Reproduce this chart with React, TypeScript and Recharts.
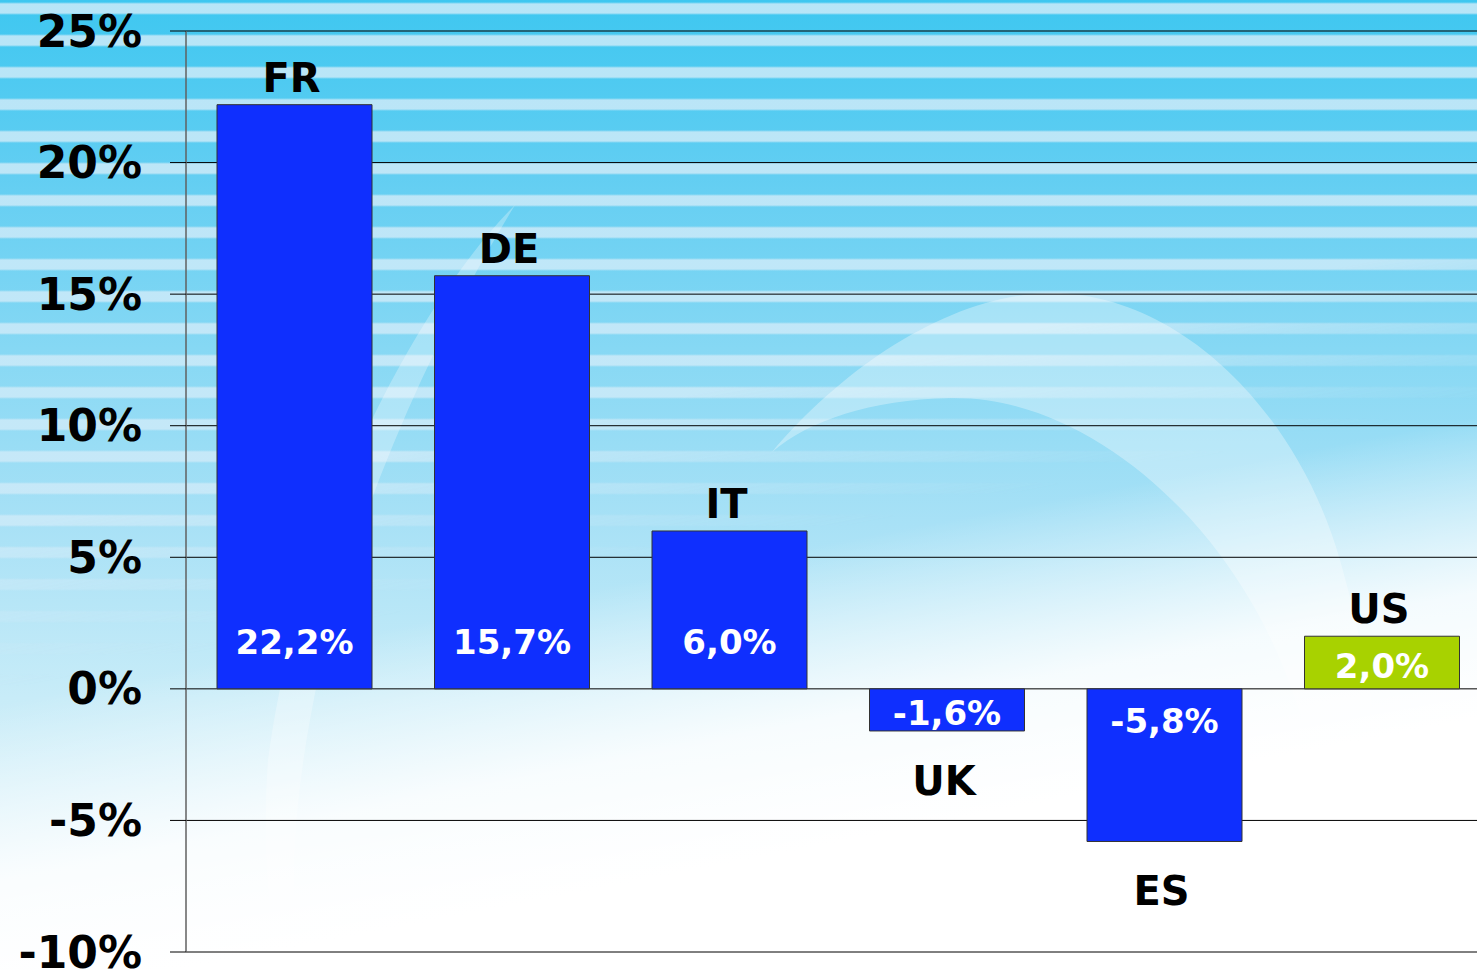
import React from 'react';
import { BarChart, Bar, XAxis, YAxis, CartesianGrid, Cell, LabelList } from 'recharts';

const countries = ['FR', 'DE', 'IT', 'UK', 'ES', 'US'];
const values = [22.2, 15.7, 6.0, -1.6, -5.8, 2.0];
const valueLabels = ['22,2%', '15,7%', '6,0%', '-1,6%', '-5,8%', '2,0%'];
const barColors = ['#0f2ffe', '#0f2ffe', '#0f2ffe', '#0f2ffe', '#0f2ffe', '#a8d200'];
const yTicks = [-10, -5, 0, 5, 10, 15, 20, 25];

const data = countries.map((c, i) => ({ name: c, value: values[i], label: valueLabels[i] }));

const FONT = '"DejaVu Sans", Verdana, sans-serif';

const CategoryLabel = (props: any) => {
  const { x, y, width, height, index } = props;
  const v = values[index];
  const top = Math.min(y, y + height);
  const bottom = Math.max(y, y + height);
  const cx = x + width / 2;
  const ty = v >= 0 ? top - 27 : bottom + 50;
  return (
    <text x={cx - 3} y={ty} textAnchor="middle" dominantBaseline="central"
      fontFamily={FONT} fontWeight="bold" fontSize={40} fill="#000">
      {countries[index]}
    </text>
  );
};

const ValueLabel = (props: any) => {
  const { x, y, width, height, index } = props;
  const v = values[index];
  const top = Math.min(y, y + height);
  const bottom = Math.max(y, y + height);
  const h = bottom - top;
  const cx = x + width / 2;
  let ty: number;
  if (h < 100) ty = (top + bottom) / 2 + 3;
  else if (v >= 0) ty = bottom - 47;
  else ty = top + 32;
  return (
    <text x={cx} y={ty} textAnchor="middle" dominantBaseline="central"
      fontFamily={FONT} fontWeight="bold" fontSize={34} fill="#fff">
      {valueLabels[index]}
    </text>
  );
};

const YTick = (props: any) => {
  const { x, y, payload } = props;
  return (
    <text x={x} y={y} textAnchor="end" dominantBaseline="central"
      fontFamily={FONT} fontWeight="bold" fontSize={44} fill="#000">
      {`${payload.value}%`}
    </text>
  );
};

export default function App() {
  return (
    <div style={{ position: 'absolute', left: 0, top: 0, width: 1477, height: 970, overflow: 'hidden' }}>
      <div style={{
        position: 'absolute', inset: 0,
        background: 'linear-gradient(180deg, #3ec7f0 0%, #62cef2 18%, #86d8f4 36%, #a8e1f6 54%, #c8ecf8 72%, #e6f5fb 100%)'
      }} />
      <div style={{
        position: 'absolute', inset: 0,
        background: 'repeating-linear-gradient(180deg, rgba(0,0,0,0) 0px, rgba(0,0,0,0) 2px, rgba(205,234,248,0.85) 4px, rgba(205,234,248,0.85) 13px, rgba(0,0,0,0) 15px, rgba(0,0,0,0) 32px)',
        WebkitMaskImage: 'linear-gradient(169deg, #000 0%, #000 42%, rgba(0,0,0,0) 55%)',
        maskImage: 'linear-gradient(169deg, #000 0%, #000 42%, rgba(0,0,0,0) 55%)'
      }} />
      <div style={{
        position: 'absolute', inset: 0,
        background: 'linear-gradient(169deg, rgba(255,255,255,0) 56%, rgba(255,255,255,0.85) 70%, #ffffff 80%)'
      }} />
      <svg width={1477} height={970} style={{ position: 'absolute', left: 0, top: 0 }}>
        <path d="M 772 452 C 850 360, 960 290, 1060 293 C 1190 300, 1300 420, 1340 560 C 1380 700, 1395 850, 1395 970 L 1345 970 C 1340 850, 1310 700, 1250 600 C 1180 480, 1060 395, 950 398 C 870 400, 810 420, 772 452 Z"
          fill="#ffffff" fillOpacity={0.32} />
        <path d="M 515 205 C 420 300, 300 520, 268 760 C 262 840, 268 920, 280 970 L 300 970 C 290 900, 292 820, 310 720 C 340 550, 420 360, 515 205 Z"
          fill="#ffffff" fillOpacity={0.28} />
      </svg>
      <div style={{ position: 'absolute', left: 0, top: 0 }}>
        <BarChart width={1491} height={970} data={data}
          margin={{ top: 31, right: 0, bottom: 18, left: 0 }} barCategoryGap={0}>
          <CartesianGrid horizontal={true} vertical={false} stroke="#000" strokeWidth={1} />
          <XAxis dataKey="name" hide />
          <YAxis width={186} domain={[-10, 25]} ticks={yTicks} interval={0}
            axisLine={{ stroke: '#606060', strokeWidth: 1.5 }}
            tickLine={{ stroke: '#000', strokeWidth: 1 }} tickSize={16} tickMargin={28}
            tick={<YTick />} />
          <Bar dataKey="value" barSize={155} isAnimationActive={false} stroke="#333" strokeWidth={1}>
            {data.map((d, i) => (
              <Cell key={d.name} fill={barColors[i]} />
            ))}
            <LabelList dataKey="value" content={<CategoryLabel />} />
            <LabelList dataKey="label" content={<ValueLabel />} />
          </Bar>
        </BarChart>
      </div>
    </div>
  );
}
